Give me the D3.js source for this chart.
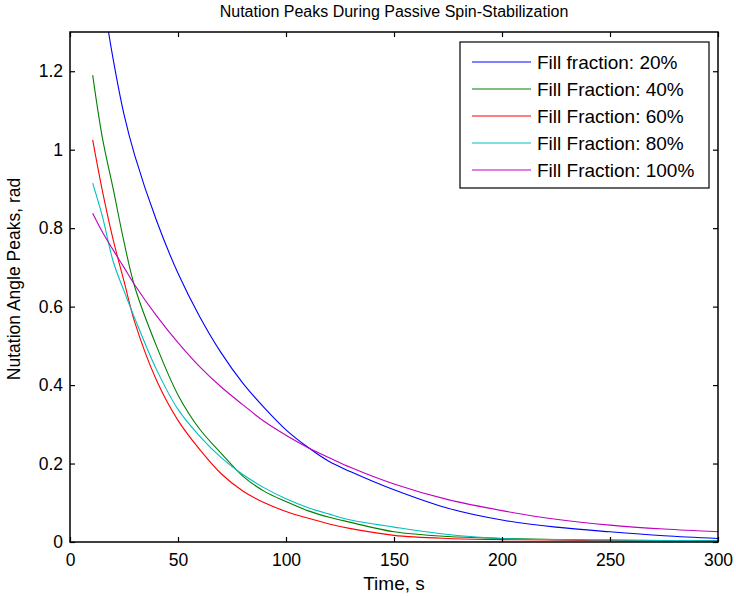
<!DOCTYPE html>
<html lang="en">
<head>
<meta charset="UTF-8">
<title>Nutation Peaks</title>
<script src="https://d3js.org/d3.v7.min.js"></script>
<style>
  body { margin: 0; background: #fff; }
  text { font-family: "Liberation Sans", Arial, sans-serif; fill: #000; }
</style>
</head>
<body>
<div id="chart"></div>
<script>
// time samples (s), shared by all series
const times = [10.5, 15, 20, 25, 30, 40, 50, 60, 70, 80, 90, 100, 110, 120, 130, 150, 175, 200, 225, 250, 275, 300];

// nutation angle peaks (rad)
const fill20  = [1.58, 1.40, 1.23, 1.09, 0.985, 0.82, 0.685, 0.575, 0.482, 0.405, 0.342, 0.286, 0.242, 0.205, 0.179, 0.133, 0.086, 0.056, 0.038, 0.026, 0.016, 0.009];
const fill40  = [1.19, 1.03, 0.90, 0.765, 0.65, 0.50, 0.375, 0.288, 0.226, 0.168, 0.129, 0.103, 0.080, 0.063, 0.050, 0.026, 0.014, 0.009, 0.006, 0.005, 0.004, 0.004];
const fill60  = [1.025, 0.895, 0.77, 0.665, 0.56, 0.413, 0.31, 0.236, 0.174, 0.13, 0.10, 0.078, 0.061, 0.046, 0.034, 0.017, 0.009, 0.006, 0.005, 0.003, 0.002, 0.002];
const fill80  = [0.915, 0.83, 0.715, 0.64, 0.57, 0.44, 0.338, 0.27, 0.215, 0.172, 0.138, 0.11, 0.088, 0.071, 0.056, 0.038, 0.019, 0.009, 0.006, 0.005, 0.004, 0.003];
const fill100 = [0.838, 0.79, 0.744, 0.70, 0.655, 0.577, 0.508, 0.447, 0.395, 0.35, 0.307, 0.272, 0.241, 0.215, 0.19, 0.148, 0.108, 0.08, 0.058, 0.043, 0.033, 0.026];

const seriesNames = ["Fill fraction: 20%", "Fill Fraction: 40%", "Fill Fraction: 60%", "Fill Fraction: 80%", "Fill Fraction: 100%"];
const seriesColors = ["#0000ff", "#008000", "#ff0000", "#00bfbf", "#bf00bf"];
const seriesValues = [fill20, fill40, fill60, fill80, fill100];

const xTicks = [0, 50, 100, 150, 200, 250, 300];
const yTicks = [0, 0.2, 0.4, 0.6, 0.8, 1, 1.2];

const width = 736, height = 596;
const margin = { top: 32, right: 18, bottom: 54, left: 70 };
const plotW = width - margin.left - margin.right;
const plotH = height - margin.top - margin.bottom;

const svg = d3.select("#chart").append("svg")
  .attr("width", width)
  .attr("height", height)
  .style("display", "block");

const x = d3.scaleLinear().domain([0, 300]).range([0, plotW]);
const y = d3.scaleLinear().domain([0, 1.3]).range([plotH, 0]);

const chart = svg.append("g")
  .attr("transform", `translate(${margin.left},${margin.top})`);

chart.append("clipPath").attr("id", "clip")
  .append("rect").attr("width", plotW).attr("height", plotH);

// lines
const line = d3.line()
  .x(d => x(d[0]))
  .y(d => y(d[1]))
  .curve(d3.curveCatmullRom.alpha(0.5));

seriesValues.forEach((vals, i) => {
  chart.append("path")
    .datum(times.map((t, j) => [t, vals[j]]))
    .attr("clip-path", "url(#clip)")
    .attr("fill", "none")
    .attr("stroke", seriesColors[i])
    .attr("stroke-width", 1.1)
    .attr("d", line);
});

// axes, ticks pointing inward on all four sides
const fontSize = 17.5;
chart.append("g")
  .attr("transform", `translate(0,${plotH})`)
  .call(d3.axisBottom(x).tickValues(xTicks).tickSize(-5).tickSizeOuter(0).tickPadding(12));
chart.append("g")
  .call(d3.axisLeft(y).tickValues(yTicks).tickFormat(d3.format("~g")).tickSize(-5).tickSizeOuter(0).tickPadding(7));
chart.append("g")
  .call(d3.axisTop(x).tickValues(xTicks).tickSize(-5).tickSizeOuter(0).tickFormat(""));
chart.append("g")
  .attr("transform", `translate(${plotW},0)`)
  .call(d3.axisRight(y).tickValues(yTicks).tickSize(-5).tickSizeOuter(0).tickFormat(""));

chart.selectAll(".domain").remove();
chart.selectAll(".tick line").attr("stroke", "#000").attr("stroke-width", 1.2);
chart.selectAll(".tick text")
  .style("font-family", "'Liberation Sans', Arial, sans-serif")
  .style("font-size", fontSize + "px")
  .attr("fill", "#000");

chart.append("rect")
  .attr("width", plotW)
  .attr("height", plotH)
  .attr("fill", "none")
  .attr("stroke", "#000")
  .attr("stroke-width", 1.5);

// title and axis labels
svg.append("text")
  .attr("x", margin.left + plotW / 2)
  .attr("y", 17)
  .attr("text-anchor", "middle")
  .style("font-size", "16px")
  .text("Nutation Peaks During Passive Spin-Stabilization");

svg.append("text")
  .attr("x", margin.left + plotW / 2)
  .attr("y", 590)
  .attr("text-anchor", "middle")
  .style("font-size", "19px")
  .text("Time, s");

svg.append("text")
  .attr("transform", "translate(20,279) rotate(-90)")
  .attr("text-anchor", "middle")
  .style("font-size", "17.5px")
  .text("Nutation Angle Peaks, rad");

// legend
const legend = svg.append("g").attr("transform", "translate(460,42)");
legend.append("rect")
  .attr("width", 249)
  .attr("height", 146)
  .attr("fill", "#fff")
  .attr("stroke", "#000")
  .attr("stroke-width", 1.2);

seriesNames.forEach((name, i) => {
  const rowY = 20 + i * 27;
  legend.append("line")
    .attr("x1", 12).attr("x2", 71)
    .attr("y1", rowY).attr("y2", rowY)
    .attr("stroke", seriesColors[i])
    .attr("stroke-width", 1.1);
  legend.append("text")
    .attr("x", 77)
    .attr("y", rowY)
    .attr("dy", "0.35em")
    .style("font-size", "19px")
    .text(name);
});
</script>
</body>
</html>
